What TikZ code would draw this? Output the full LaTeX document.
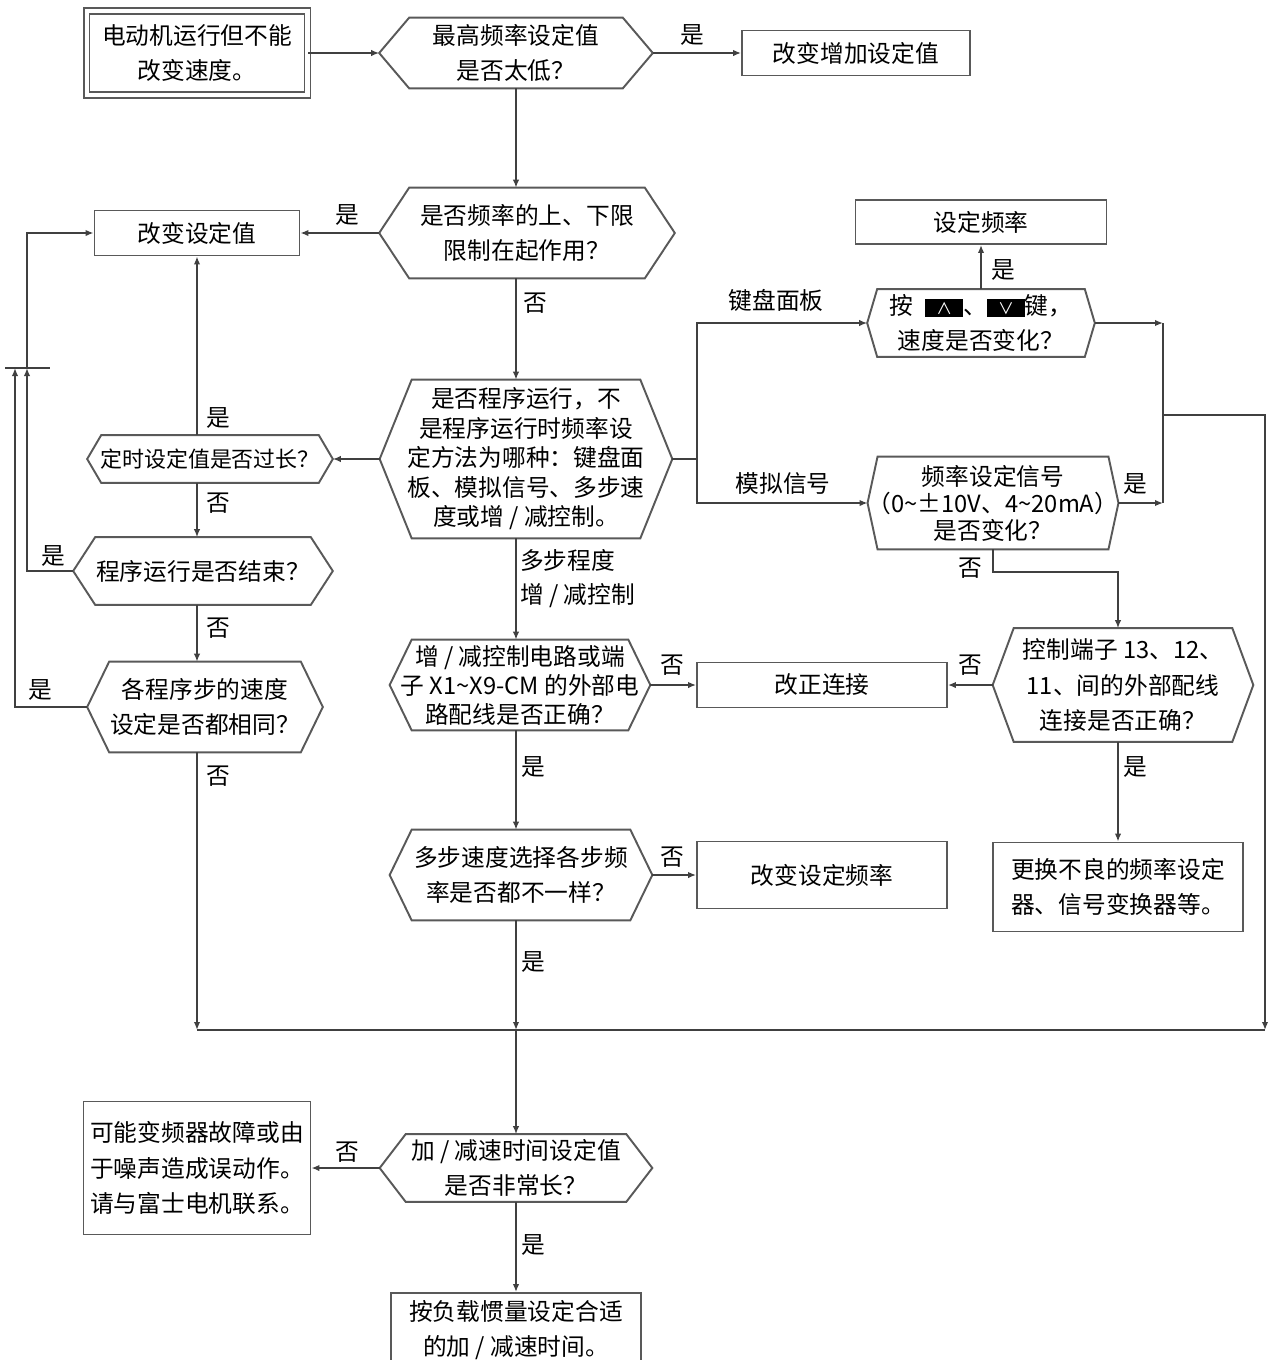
\documentclass[tikz,border=0pt]{standalone}
\usepackage{fontspec}
\setmainfont{Noto Sans CJK SC}
\usepackage{tikz}
\usetikzlibrary{arrows.meta}
\tikzstyle{arrow} = [line width=0.9pt, draw=black!75, -{Latex[length=1.6mm,width=1.3mm]}]
\tikzstyle{conn} = [line width=0.9pt, draw=black!75]
\tikzstyle{box} = [draw=black!65, line width=1.1pt, align=center, inner sep=1pt]
\tikzstyle{decision} = [align=center, inner sep=0pt]
\tikzstyle{lbl} = [inner sep=1pt]
% hexagon round a decision node, #2 = depth of the points
\newcommand{\hexa}[2]{\draw[draw=black!65, line width=1.1pt] (#1.west) -- ([xshift=#2*0.02cm]#1.north west) -- ([xshift=-#2*0.02cm]#1.north east) -- (#1.east) -- ([xshift=-#2*0.02cm]#1.south east) -- ([xshift=#2*0.02cm]#1.south west) -- cycle;}
\newcommand{\keycap}[1]{{\setlength{\fboxsep}{0pt}\colorbox{black}{\parbox[c][0.36cm][c]{0.76cm}{\centering\color{white}\fontsize{9}{9}\selectfont #1}}}}

\begin{document}
\begin{tikzpicture}[x=0.02cm, y=-0.02cm, font=\fontsize{13.5}{20}\selectfont]
    \useasboundingbox (0,0) rectangle (1269,1360);
    % top row
    \node[box, double, double distance=2.3pt, minimum width=4.42cm, minimum height=1.68cm] (start) at (197,53) {电动机运行但不能\\改变速度。};
    \node[decision, minimum width=5.46cm, minimum height=1.4cm] (d1) at (516,53) {最高频率设定值\\是否太低？};
    \hexa{d1}{30}
    \node[box, minimum width=4.56cm, minimum height=0.9cm] (b1) at (856,53) {改变增加设定值};
    % main column
    \node[decision, minimum width=5.9cm, minimum height=1.8cm] (d2) at (527,233) {是否频率的上、下限\\限制在起作用？};
    \hexa{d2}{30}
    \node[box, minimum width=4.1cm, minimum height=0.9cm] (b2) at (197,233) {改变设定值};
    \node[decision, font=\fontsize{13.5}{16.8}\selectfont, minimum width=5.84cm, minimum height=3.16cm] (d3) at (526,459) {是否程序运行，不\\是程序运行时频率设\\定方法为哪种：键盘面\\板、模拟信号、多步速\\度或增 / 减控制。};
    \hexa{d3}{32}
    \node[decision, minimum width=5.2cm, minimum height=1.8cm, font=\fontsize{13.5}{16.5}\selectfont] (d6) at (520,685) {增 / 减控制电路或端\\子 X1\textasciitilde X9-CM 的外部电\\路配线是否正确？};
    \hexa{d6}{22}
    \node[decision, minimum width=5.24cm, minimum height=1.8cm] (d7) at (521,875) {多步速度选择各步频\\率是否都不一样？};
    \hexa{d7}{22}
    \node[decision, minimum width=5.44cm, minimum height=1.34cm] (d8) at (516,1168) {加 / 减速时间设定值\\是否非常长？};
    \hexa{d8}{26}
    \node[box, minimum width=5.0cm, minimum height=1.48cm] (bend) at (516,1330) {按负载惯量设定合适\\的加 / 减速时间。};
    \node[box, align=left, minimum width=4.54cm, minimum height=2.66cm] (berr) at (197,1168) {可能变频器故障或由\\于噪声造成误动作。\\请与富士电机联系。};
    % left column
    \node[decision, minimum width=4.9cm, minimum height=0.94cm, font=\fontsize{12.5}{15}\selectfont] (d4) at (210,459) {定时设定值是否过长？};
    \hexa{d4}{14}
    \node[decision, minimum width=5.18cm, minimum height=1.34cm] (d5) at (203,571) {程序运行是否结束？};
    \hexa{d5}{22}
    \node[decision, minimum width=4.7cm, minimum height=1.8cm] (dsteps) at (205,707) {各程序步的速度\\设定是否都相同？};
    \hexa{dsteps}{22}
    % right part
    \node[box, minimum width=5.02cm, minimum height=0.88cm] (bset) at (981,222) {设定频率};
    \node[decision, minimum width=4.54cm, minimum height=1.34cm] (dkey) at (981,323) {按\hspace{0.5em}\keycap{∧}、\keycap{∨}键，\\速度是否变化？};
    \hexa{dkey}{10}
    \node[decision, minimum width=4.94cm, minimum height=1.84cm, font=\fontsize{13.5}{15.4}\selectfont] (dana) at (993,503) {频率设定信号\\（0\textasciitilde ±10V、4\textasciitilde 20mA）\\是否变化？};
    \hexa{dana}{10}
    \node[decision, minimum width=5.2cm, minimum height=2.26cm] (dctrl) at (1123,685) {控制端子 13、12、\\11、间的外部配线\\连接是否正确？};
    \hexa{dctrl}{21}
    \node[box, minimum width=5.0cm, minimum height=0.9cm] (bfix) at (822,685) {改正连接};
    \node[box, minimum width=5.0cm, minimum height=1.34cm] (bchg) at (822,875) {改变设定频率};
    \node[box, minimum width=5.0cm, minimum height=1.78cm] (brepl) at (1118,887) {更换不良的频率设定\\器、信号变换器等。};
    % junctions
    \coordinate (kj) at (697,459);
    \coordinate (rj) at (1163,415);
    \coordinate (rc) at (1265,415);
    \coordinate (aj) at (1118,572);
    \coordinate (bj) at (516,1030);
    \coordinate (lj) at (27,368);
    \coordinate (lj2) at (15,368);
    \coordinate (bar1) at (5,368);
    \coordinate (bar2) at (50,368);
    % connectors
    \draw[arrow] (start.east) -- (d1.west);
    \draw[arrow] (d1.east) -- (b1.west);
    \draw[arrow] (d1.south) -- (d1.south |- d2.north);
    \draw[arrow] (d2.west) -- (b2.east);
    \draw[arrow] (d2.south -| d1) -- (d3.north -| d1);
    \draw[arrow] (d3.west) -- (d4.east);
    \draw[arrow] (d4.north -| b2) -- (b2.south);
    \draw[arrow] (d4.south -| b2) -- (d5.north -| b2);
    \draw[arrow] (d5.south -| b2) -- (dsteps.north -| b2);
    \draw[arrow] (d5.west) -- (d5.west -| lj) -- (lj);
    \draw[arrow] (lj) -- (lj |- b2) -- (b2.west);
    \draw[arrow] (dsteps.west) -- (dsteps.west -| lj2) -- (lj2);
    \draw[conn] (bar1) -- (bar2);
    \draw[arrow] (dsteps.south -| b2) -- (bj -| b2);
    \draw[conn] (bj -| b2) -- (bj -| rc);
    \draw[conn] (d3.east) -- (kj);
    \draw[arrow] (kj) -- (kj |- dkey.west) -- (dkey.west);
    \draw[arrow] (kj) -- (kj |- dana.west) -- (dana.west);
    \draw[arrow] (dkey.north) -- (bset.south);
    \draw[arrow] (dkey.east) -- (dkey.east -| rj);
    \draw[arrow] (dana.east) -- (dana.east -| rj);
    \draw[conn] (dkey.east -| rj) -- (dana.east -| rj);
    \draw[arrow] (rj) -- (rc) -- (rc |- bj);
    \draw[arrow] (dana.south) |- (aj) -- (aj |- dctrl.north);
    \draw[arrow] (dctrl.west) -- (bfix.east);
    \draw[arrow] (dctrl.south -| brepl) -- (brepl.north);
    \draw[arrow] (d3.south -| d1) -- (d6.north -| d1);
    \draw[arrow] (d6.east) -- (bfix.west);
    \draw[arrow] (d6.south -| d1) -- (d7.north -| d1);
    \draw[arrow] (d7.east) -- (bchg.west);
    \draw[arrow] (d7.south -| d1) -- (bj);
    \draw[arrow] (bj) -- (d8.north);
    \draw[arrow] (d8.west) -- (berr.east);
    \draw[arrow] (d8.south) -- (bend.north);
    % labels
    \node[lbl] (y1) at (692,35) {是};
    \node[lbl] (y2) at (347,215) {是};
    \node[lbl] (n2) at (535,303) {否};
    \node[lbl] (y4) at (218,418) {是};
    \node[lbl] (n4) at (218,503) {否};
    \node[lbl] (y5) at (53,556) {是};
    \node[lbl] (n5) at (218,628) {否};
    \node[lbl] (ys) at (40,690) {是};
    \node[lbl] (ns) at (218,776) {否};
    \node[lbl] (kbd) at (776,300) {键盘面板};
    \node[lbl] (ana) at (783,484) {模拟信号};
    \node[lbl] (yk) at (1003,270) {是};
    \node[lbl] (ya) at (1135,484) {是};
    \node[lbl] (na) at (970,568) {否};
    \node[lbl] (nc) at (970,665) {否};
    \node[lbl] (yc) at (1135,767) {是};
    \node[lbl, anchor=west] (ms1) at (518,560) {多步程度};
    \node[lbl, anchor=west] (ms2) at (518,596) {增 / 减控制};
    \node[lbl] (n6) at (672,665) {否};
    \node[lbl] (y6) at (533,767) {是};
    \node[lbl] (n7) at (672,857) {否};
    \node[lbl] (y7) at (533,962) {是};
    \node[lbl] (n8) at (347,1152) {否};
    \node[lbl] (y8) at (533,1245) {是};
\end{tikzpicture}
\end{document}
